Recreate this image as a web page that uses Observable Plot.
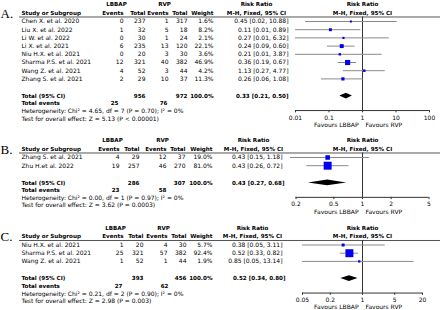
<!DOCTYPE html>
<html><head><meta charset="utf-8">
<script src="https://cdn.jsdelivr.net/npm/d3@7"></script>
<script src="https://cdn.jsdelivr.net/npm/@observablehq/plot@0.6"></script>
<style>
html,body{margin:0;padding:0;background:#fff;}
#chart{width:440px;height:310px;overflow:hidden;}
#chart svg{display:block;}
</style></head><body><div id="chart"></div>
<script>
// ---------- Panel A ----------
const studiesA = ["Chen X. et al. 2020","Liu X. et al. 2022","Li W. et al. 2022","Li X. et al. 2021","Niu H.X. et al. 2021","Sharma P.S. et al. 2021","Wang Z. et al. 2021","Zhang S. et al. 2021"];
const lbbapEventsA = [0,1,0,6,0,12,4,2];
const lbbapTotalA = [237,32,30,235,20,321,52,29];
const rvpEventsA = [1,5,1,13,3,40,3,10];
const rvpTotalA = [317,18,24,120,30,382,44,37];
const weightA = [1.6,8.2,2.1,22.1,3.6,46.9,4.2,11.3];
const rrA = [0.45,0.11,0.27,0.24,0.21,0.36,1.13,0.26];
const loA = [0.02,0.01,0.01,0.09,0.01,0.19,0.27,0.06];
const hiA = [10.88,0.89,6.32,0.60,3.87,0.67,4.77,1.08];
const totalsA = [956,972,25,76];          // LBBAP total, RVP total, LBBAP events, RVP events
const pooledA = [0.33,0.21,0.50];         // RR, lower, upper
const hetA = "Heterogeneity: Chi² = 4.65, df = 7 (P = 0.70); I² = 0%";
const testA = "Test for overall effect: Z = 5.13 (P < 0.00001)";
const ticksA = [0.01,0.1,1,10,100];
const tickLabelsA = ["0.01","0.1","1","10","100"];

// ---------- Panel B ----------
const studiesB = ["Zhang S. et al. 2021","Zhu H.et al. 2022"];
const lbbapEventsB = [4,19];
const lbbapTotalB = [29,257];
const rvpEventsB = [12,46];
const rvpTotalB = [37,270];
const weightB = [19.0,81.0];
const rrB = [0.43,0.43];
const loB = [0.15,0.26];
const hiB = [1.18,0.72];
const totalsB = [286,307,23,58];
const pooledB = [0.43,0.27,0.68];
const hetB = "Heterogeneity: Chi² = 0.00, df = 1 (P = 0.97); I² = 0%";
const testB = "Test for overall effect: Z = 3.62 (P = 0.0003)";
const ticksB = [0.2,0.5,1,2,5];
const tickLabelsB = ["0.2","0.5","1","2","5"];

// ---------- Panel C ----------
const studiesC = ["Niu H.X. et al. 2021","Sharma P.S. et al. 2021","Wang Z. et al. 2021"];
const lbbapEventsC = [1,25,1];
const lbbapTotalC = [20,321,52];
const rvpEventsC = [4,57,1];
const rvpTotalC = [30,382,44];
const weightC = [5.7,92.4,1.9];
const rrC = [0.38,0.52,0.85];
const loC = [0.05,0.33,0.05];
const hiC = [3.11,0.82,13.14];
const totalsC = [393,456,27,62];
const pooledC = [0.52,0.34,0.80];
const hetC = "Heterogeneity: Chi² = 0.21, df = 2 (P = 0.90); I² = 0%";
const testC = "Test for overall effect: Z = 2.98 (P = 0.003)";
const ticksC = [0.05,0.2,1,5,20];
const tickLabelsC = ["0.05","0.2","1","5","20"];

const FONT = "DejaVu Sans";
const FS = 6;
const pitch = 8.2;
const fmtCI = (r,l,h) => `${r.toFixed(2)} [${l.toFixed(2)}, ${h.toFixed(2)}]`;

function panel(p) {
  const n = p.names.length;
  const idx = d3.range(n);
  const yH1 = -2.1, yH2 = -1.04, yRule = -0.55;
  const yTot = n - 1 + 2.1, yEv = yTot + 0.9, yHet = yTot + 1.83, yTest = yTot + 2.74;
  const yAxis = yTot + 1.76, yTick = yTot + 2.62, yFav = yTot + 3.5;
  const c = p.col;
  const colText = (vals, dx) => Plot.text(idx, {y: d => d, text: d => vals[d], frameAnchor: "left", dx, textAnchor: "end"});
  const lbl = (y, text, dx, anchor, extra={}) => Plot.text([text], {y: () => y, text: d => d, frameAnchor: "left", dx, textAnchor: anchor, ...extra});
  const B = {fontWeight: "bold", fontSize: 5.6};
  const wmax = d3.max(p.w);
  const diamond = [
    {y: yTot - 0.36, a: p.pooled[0], b: p.pooled[0]},
    {y: yTot, a: p.pooled[1], b: p.pooled[2]},
    {y: yTot + 0.36, a: p.pooled[0], b: p.pooled[0]}
  ];
  return Plot.plot({
    width: 440, height: p.height, margin: 0,
    x: {type: "log", domain: p.xDomain, range: p.xRange, clamp: true, axis: null},
    y: {type: "linear", domain: [0, 1], range: [p.row0, p.row0 + pitch], axis: null},
    r: {type: "sqrt", domain: [0, wmax], range: [0.75, p.rmax]},
    style: {fontFamily: FONT, fontSize: FS + "px", color: "#000", background: "transparent"},
    marks: [
      // panel letter
      lbl(yH2 + 0.1, p.letter, 0, "start", {fontFamily: "Liberation Serif", fontSize: 13}),
      // headers
      lbl(yH1, "LBBAP", c.lbbapC, "middle", B),
      lbl(yH1, "RVP", c.rvpC, "middle", B),
      lbl(yH1, "Risk Ratio", c.riskC, "middle", B),
      Plot.text(["Risk Ratio"], {x: () => 1, y: () => yH1, text: d => d, ...B}),
      lbl(yH2, "Study or Subgroup", 21, "start", B),
      lbl(yH2, "Events", c.lbE, "end", B),
      lbl(yH2, "Total", c.lbT, "end", B),
      lbl(yH2, "Events", c.rvE, "end", B),
      lbl(yH2, "Total", c.rvT, "end", B),
      lbl(yH2, "Weight", c.wt, "end", B),
      lbl(yH2, "M-H, Fixed, 95% CI", c.riskC, "middle", B),
      Plot.text(["M-H, Fixed, 95% CI"], {x: () => 1, y: () => yH2, text: d => d, ...B}),
      Plot.ruleY([yRule], {insetLeft: 19, stroke: "#555", strokeWidth: 1}),
      // study rows
      Plot.text(idx, {y: d => d, text: d => p.names[d], frameAnchor: "left", dx: 21, textAnchor: "start"}),
      colText(p.le, c.lbE),
      colText(p.lt, c.lbT),
      colText(p.re, c.rvE),
      colText(p.rt, c.rvT),
      colText(p.w.map(v => v.toFixed(1) + "%"), c.wt),
      colText(idx.map(i => fmtCI(p.rr[i], p.lo[i], p.hi[i])), c.ci),
      // totals
      lbl(yTot, "Total (95% CI)", 21, "start", B),
      lbl(yTot, p.totals[0], c.lbT, "end", B),
      lbl(yTot, p.totals[1], c.rvT, "end", B),
      lbl(yTot, "100.0%", c.wt, "end", B),
      lbl(yTot, fmtCI(...p.pooled), c.ciT, "end", B),
      lbl(yEv, "Total events", 21, "start", B),
      lbl(yEv, p.totals[2], c.evL, "end", B),
      lbl(yEv, p.totals[3], c.evR, "end", B),
      lbl(yHet, p.het, 21, "start"),
      lbl(yTest, p.test, 21, "start"),
      // forest plot
      Plot.ruleX([1], {y1: yRule, y2: yAxis, stroke: "#333", strokeWidth: 1}),
      Plot.ruleY(idx, {y: d => d, x1: d => p.lo[d], x2: d => p.hi[d], stroke: "#8a8a8a", strokeWidth: 1}),
      Plot.dot(idx, {x: d => p.rr[d], y: d => d, r: d => p.w[d], symbol: "square", fill: "#0000ee", stroke: "none"}),
      Plot.areaX(diamond, {y: "y", x1: "a", x2: "b", fill: "#000", curve: "linear"}),
      // axis
      Plot.ruleY([yAxis], {x1: p.ticks[0], x2: p.ticks[p.ticks.length - 1], stroke: "#333", strokeWidth: 1}),
      Plot.ruleX(p.ticks, {x: d => d, y1: yAxis, y2: yAxis + 0.28, stroke: "#333"}),
      Plot.text(p.ticks, {x: d => d, y: () => yTick, text: (d, i) => p.tickLabels[i]}),
      Plot.text(["Favours LBBAP"], {x: () => 1, y: () => yFav, text: d => d, dx: -4, textAnchor: "end"}),
      Plot.text(["Favours RVP"], {x: () => 1, y: () => yFav, text: d => d, dx: 3, textAnchor: "start"})
    ]
  });
}

const chart = document.getElementById("chart");
chart.append(panel({
  letter: "A.", names: studiesA, le: lbbapEventsA, lt: lbbapTotalA, re: rvpEventsA, rt: rvpTotalA,
  w: weightA, rr: rrA, lo: loA, hi: hiA, totals: totalsA, pooled: pooledA, het: hetA, test: testA,
  ticks: ticksA, tickLabels: tickLabelsA, xDomain: [0.01, 100], xRange: [295, 429],
  row0: 21, height: 132, rmax: 2.9,
  col: {lbbapC: 116, rvpC: 164, riskC: 256, lbE: 123, lbT: 145, rvE: 168, rvT: 187, wt: 213, ci: 288, ciT: 288, evL: 118, evR: 167}
}));
chart.append(panel({
  letter: "B.", names: studiesB, le: lbbapEventsB, lt: lbbapTotalB, re: rvpEventsB, rt: rvpTotalB,
  w: weightB, rr: rrB, lo: loB, hi: hiB, totals: totalsB, pooled: pooledB, het: hetB, test: testB,
  ticks: ticksB, tickLabels: tickLabelsB, xDomain: [0.175, 6.6], xRange: [290, 440],
  row0: 25, height: 84, rmax: 4.5,
  col: {lbbapC: 112, rvpC: 162, riskC: 253, lbE: 119, lbT: 139, rvE: 166, rvT: 185, wt: 212, ci: 282, ciT: 284, evL: 119, evR: 166}
}));
chart.append(panel({
  letter: "C.", names: studiesC, le: lbbapEventsC, lt: lbbapTotalC, re: rvpEventsC, rt: rvpTotalC,
  w: weightC, rr: rrC, lo: loC, hi: hiC, totals: totalsC, pooled: pooledC, het: hetC, test: testC,
  ticks: ticksC, tickLabels: tickLabelsC, xDomain: [0.05, 20], xRange: [302, 422],
  row0: 28.5, height: 94, rmax: 4.5,
  col: {lbbapC: 115, rvpC: 163, riskC: 252, lbE: 123, lbT: 143, rvE: 167, rvT: 186, wt: 212, ci: 282, ciT: 285, evL: 122, evR: 168}
}));
</script></body></html>
